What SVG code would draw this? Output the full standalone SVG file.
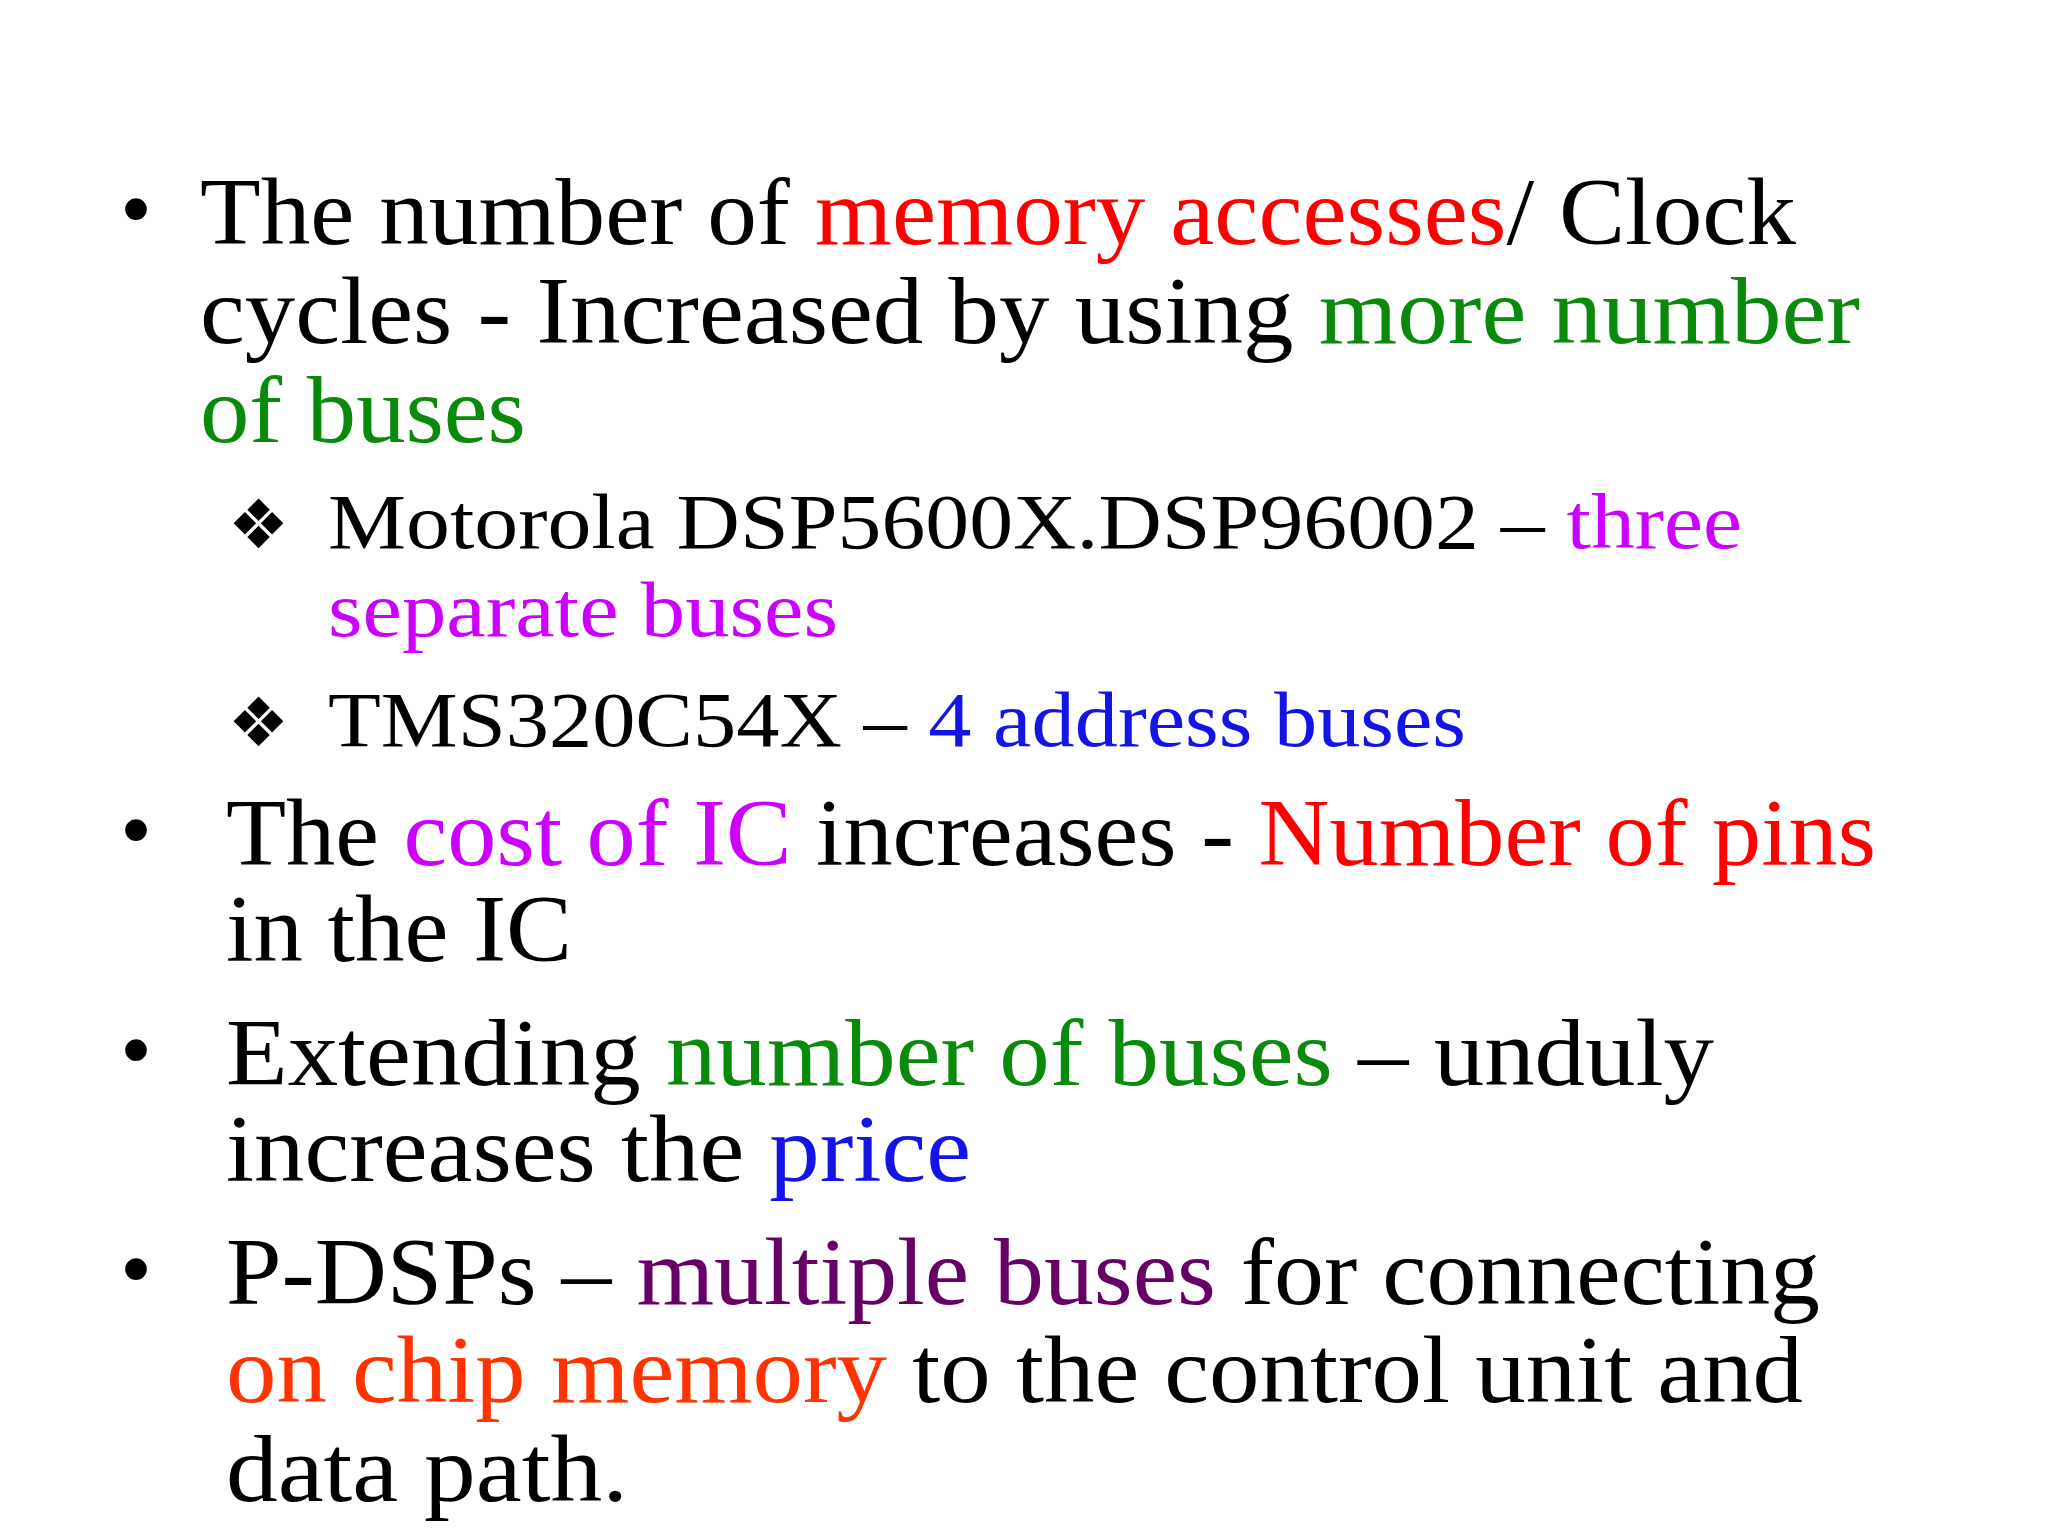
<svg xmlns="http://www.w3.org/2000/svg" width="2048" height="1536" viewBox="0 0 2048 1536">
<style>
.t{font-family:"Liberation Serif","DejaVu Serif",serif;font-size:96px;fill:#000}
.s{font-family:"Liberation Serif","DejaVu Serif",serif;font-size:78px;fill:#000}
.b{font-family:"Liberation Sans",sans-serif;font-size:80px;fill:#000}
.d{font-family:"DejaVu Sans",sans-serif;font-size:68px;fill:#000}
.r{fill:#ff0000}.g{fill:#0a8a0a}.m{fill:#cc00ff}.bl{fill:#1414e6}.p{fill:#660066}.o{fill:#ff3300}
</style>
<rect width="2048" height="1536" fill="#fff"/>
<g id="bullet1">
<text class="b" x="122" y="236">•</text>
<text class="t" x="200" y="244" textLength="1596" lengthAdjust="spacingAndGlyphs">The number of <tspan class="r">memory accesses</tspan>/ Clock</text>
<text class="t" x="200" y="343" textLength="1660" lengthAdjust="spacingAndGlyphs">cycles  - Increased by using <tspan class="g">more number</tspan></text>
<text class="t g" x="200" y="442" textLength="326" lengthAdjust="spacingAndGlyphs">of buses</text>
</g>
<g id="sub1">
<text class="d" x="228" y="548">❖</text>
<text class="s" x="328" y="548" textLength="1414" lengthAdjust="spacingAndGlyphs">Motorola DSP5600X.DSP96002 – <tspan class="m">three</tspan></text>
<text class="s m" x="328" y="636" textLength="510" lengthAdjust="spacingAndGlyphs">separate buses</text>
</g>
<g id="sub2">
<text class="d" x="228" y="746">❖</text>
<text class="s" x="328" y="746" textLength="1138" lengthAdjust="spacingAndGlyphs">TMS320C54X – <tspan class="bl">4 address buses</tspan></text>
</g>
<g id="bullet2">
<text class="b" x="122" y="857">•</text>
<text class="t" x="226" y="865" textLength="1650" lengthAdjust="spacingAndGlyphs">The <tspan class="m">cost of IC</tspan> increases - <tspan class="r">Number of pins</tspan></text>
<text class="t" x="226" y="961" textLength="346" lengthAdjust="spacingAndGlyphs">in the IC</text>
</g>
<g id="bullet3">
<text class="b" x="122" y="1077">•</text>
<text class="t" x="226" y="1085" textLength="1488" lengthAdjust="spacingAndGlyphs">Extending <tspan class="g">number of buses</tspan> – unduly</text>
<text class="t" x="226" y="1181" textLength="745" lengthAdjust="spacingAndGlyphs">increases the <tspan class="bl">price</tspan></text>
</g>
<g id="bullet4">
<text class="b" x="122" y="1296">•</text>
<text class="t" x="226" y="1304" textLength="1594" lengthAdjust="spacingAndGlyphs">P-DSPs – <tspan class="p">multiple buses</tspan> for connecting</text>
<text class="t" x="226" y="1402" textLength="1577" lengthAdjust="spacingAndGlyphs"><tspan class="o">on chip memory</tspan> to the control unit and</text>
<text class="t" x="226" y="1501" textLength="402" lengthAdjust="spacingAndGlyphs">data path.</text>
</g>
</svg>
